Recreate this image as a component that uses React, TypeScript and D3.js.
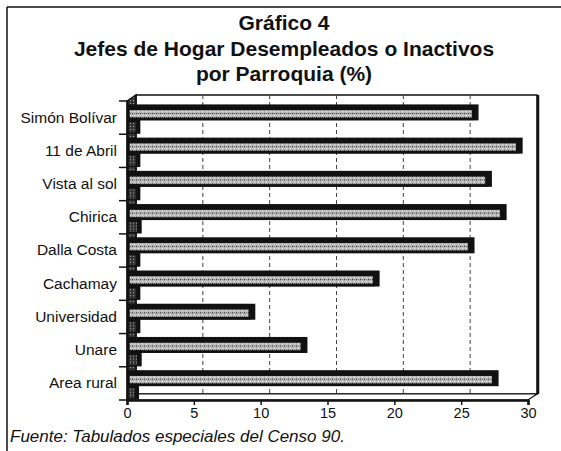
import React, { useEffect, useRef } from 'react';
import * as d3 from 'd3';

const categories = [
  'Simón Bolívar',
  '11 de Abril',
  'Vista al sol',
  'Chirica',
  'Dalla Costa',
  'Cachamay',
  'Universidad',
  'Unare',
  'Area rural',
];
const mainValues = [26.0, 29.3, 27.0, 28.1, 25.7, 18.6, 9.3, 13.2, 27.5];
const minorValues = [0.7, 0.7, 0.7, 0.8, 0.7, 0.7, 0.7, 0.8, 0.6];
const xTicks = [0, 5, 10, 15, 20, 25, 30];
const titleLines = ['Gráfico 4', 'Jefes de Hogar Desempleados o Inactivos', 'por Parroquia (%)'];
const source = 'Fuente: Tabulados especiales del Censo 90.';

const W = 561;
const H = 451;
const FONT = '"Liberation Sans", Arial, sans-serif';

const App: React.FC = () => {
  const svgRef = useRef<SVGSVGElement>(null);

  useEffect(() => {
    if (!svgRef.current) return;
    const svg = d3.select(svgRef.current);
    svg.selectAll('*').remove();

    const left = 127;
    const right = 528;
    const top = 101;
    const bottom = 400;
    const depthX = 9;
    const depthY = -6;

    const x = d3.scaleLinear().domain([0, 30]).range([left, right]);
    const y = d3.scaleBand<string>().domain(categories).range([top, bottom]).paddingInner(0);
    const sub = d3.scaleBand<string>().domain(['main', 'minor']).range([6, y.bandwidth()]).padding(0.03);

    const defs = svg.append('defs');
    const pat = defs.append('pattern')
      .attr('id', 'speckle')
      .attr('width', 4)
      .attr('height', 4)
      .attr('patternUnits', 'userSpaceOnUse');
    pat.append('rect').attr('width', 4).attr('height', 4).attr('fill', '#b8b8b8');
    pat.append('rect').attr('x', 0).attr('y', 0).attr('width', 1).attr('height', 1).attr('fill', '#222');
    pat.append('rect').attr('x', 2).attr('y', 2).attr('width', 1).attr('height', 1).attr('fill', '#fff');
    pat.append('rect').attr('x', 2).attr('y', 0).attr('width', 1).attr('height', 1).attr('fill', '#666');

    const dark = defs.append('pattern')
      .attr('id', 'darkspeckle')
      .attr('width', 3)
      .attr('height', 3)
      .attr('patternUnits', 'userSpaceOnUse');
    dark.append('rect').attr('width', 3).attr('height', 3).attr('fill', '#333');
    dark.append('rect').attr('x', 1).attr('y', 1).attr('width', 1).attr('height', 1).attr('fill', '#aaa');

    // Outer frame (top and left edges)
    svg.append('line').attr('x1', 7).attr('x2', W).attr('y1', 7).attr('y2', 7)
      .attr('stroke', '#111').attr('stroke-width', 1.5);
    svg.append('line').attr('x1', 7).attr('x2', 7).attr('y1', 7).attr('y2', H)
      .attr('stroke', '#111').attr('stroke-width', 1.5);

    // Titles
    svg.append('g')
      .selectAll('text')
      .data(titleLines)
      .enter()
      .append('text')
      .attr('x', 284)
      .attr('y', (_, i) => 30 + i * 25.5)
      .attr('text-anchor', 'middle')
      .attr('font-family', FONT)
      .attr('font-weight', 'bold')
      .attr('font-size', '21px')
      .attr('fill', '#111')
      .text(d => d);

    // Back wall and gridlines
    svg.append('rect')
      .attr('x', left + depthX)
      .attr('y', top + depthY)
      .attr('width', right - left)
      .attr('height', bottom - top)
      .attr('fill', 'none')
      .attr('stroke', '#111')
      .attr('stroke-width', 1.5);
    svg.append('line')
      .attr('x1', right + depthX + 1).attr('x2', right + depthX + 1)
      .attr('y1', top + depthY).attr('y2', bottom + depthY)
      .attr('stroke', '#111').attr('stroke-width', 2.5);

    svg.append('g')
      .selectAll('line')
      .data(xTicks.filter(t => t > 0 && t < 30))
      .enter()
      .append('line')
      .attr('x1', d => x(d) + depthX)
      .attr('x2', d => x(d) + depthX)
      .attr('y1', top + depthY)
      .attr('y2', bottom + depthY)
      .attr('stroke', '#444')
      .attr('stroke-width', 1)
      .attr('stroke-dasharray', '4,3');

    // Left wall and floor
    svg.append('path')
      .attr('d', `M${left},${top} L${left + depthX},${top + depthY} L${left + depthX},${bottom + depthY} L${left},${bottom} Z`)
      .attr('fill', 'url(#darkspeckle)')
      .attr('stroke', '#111')
      .attr('stroke-width', 1.5);
    svg.append('path')
      .attr('d', `M${left},${bottom} L${left + depthX},${bottom + depthY} L${right + depthX},${bottom + depthY} L${right},${bottom} Z`)
      .attr('fill', '#fff')
      .attr('stroke', '#111')
      .attr('stroke-width', 1.2);

    // Bars
    const rows = categories.map((c, i) => ({ c, main: mainValues[i], minor: minorValues[i] }));
    const dx = 4;
    const dy = 3;

    const rowG = svg.append('g')
      .selectAll('g')
      .data(rows)
      .enter()
      .append('g')
      .attr('transform', d => `translate(0,${y(d.c)})`);

    // main bar: 3D shadow then front face
    rowG.append('rect')
      .attr('x', x(0))
      .attr('y', (sub('main') || 0) - dy)
      .attr('width', d => x(d.main) - x(0) + dx)
      .attr('height', sub.bandwidth() + dy)
      .attr('fill', '#111');
    rowG.append('rect')
      .attr('x', x(0) + 1.5)
      .attr('y', (sub('main') || 0) + 1.5)
      .attr('width', d => x(d.main) - x(0) - 3)
      .attr('height', sub.bandwidth() - 3)
      .attr('fill', 'url(#speckle)')
      .attr('stroke', '#111')
      .attr('stroke-width', 2.5);

    // minor bar
    rowG.append('rect')
      .attr('x', x(0))
      .attr('y', (sub('minor') || 0) - dy)
      .attr('width', d => x(d.minor) - x(0) + dx)
      .attr('height', sub.bandwidth() + dy)
      .attr('fill', '#111');
    rowG.append('rect')
      .attr('x', x(0) + 1)
      .attr('y', (sub('minor') || 0) + 1)
      .attr('width', d => x(d.minor) - x(0) - 1)
      .attr('height', sub.bandwidth() - 2)
      .attr('fill', 'url(#darkspeckle)')
      .attr('stroke', '#111')
      .attr('stroke-width', 1);

    // Category axis
    const yAxis = d3.axisLeft(y).tickSize(0).tickPadding(10);
    const yg = svg.append('g')
      .attr('transform', `translate(${left},0)`)
      .call(yAxis);
    yg.select('.domain').attr('stroke', '#111').attr('stroke-width', 2);
    yg.selectAll('text')
      .attr('font-family', FONT)
      .attr('font-size', '15.5px')
      .attr('fill', '#111');
    svg.append('g')
      .selectAll('line')
      .data([...categories.map(c => y(c) || 0), bottom])
      .enter()
      .append('line')
      .attr('x1', left - 8)
      .attr('x2', left)
      .attr('y1', d => d)
      .attr('y2', d => d)
      .attr('stroke', '#111')
      .attr('stroke-width', 1.5);

    // Value axis
    const xAxis = d3.axisBottom(x).tickValues(xTicks).tickSize(5).tickPadding(3).tickFormat(d => `${d}`);
    const xg = svg.append('g')
      .attr('transform', `translate(0,${bottom})`)
      .call(xAxis);
    xg.select('.domain').attr('stroke', '#111').attr('stroke-width', 2.5);
    xg.selectAll('line').attr('stroke', '#111').attr('stroke-width', 1.5);
    xg.selectAll('text')
      .attr('font-family', FONT)
      .attr('font-size', '14.5px')
      .attr('fill', '#111');

    // Source note
    svg.append('text')
      .attr('x', 10)
      .attr('y', 442)
      .attr('font-family', FONT)
      .attr('font-style', 'italic')
      .attr('font-size', '17px')
      .attr('fill', '#111')
      .text(source);
  }, []);

  return (
    <svg
      ref={svgRef}
      width={W}
      height={H}
      style={{ position: 'absolute', left: 0, top: 0, background: '#fff' }}
    />
  );
};

export default App;
